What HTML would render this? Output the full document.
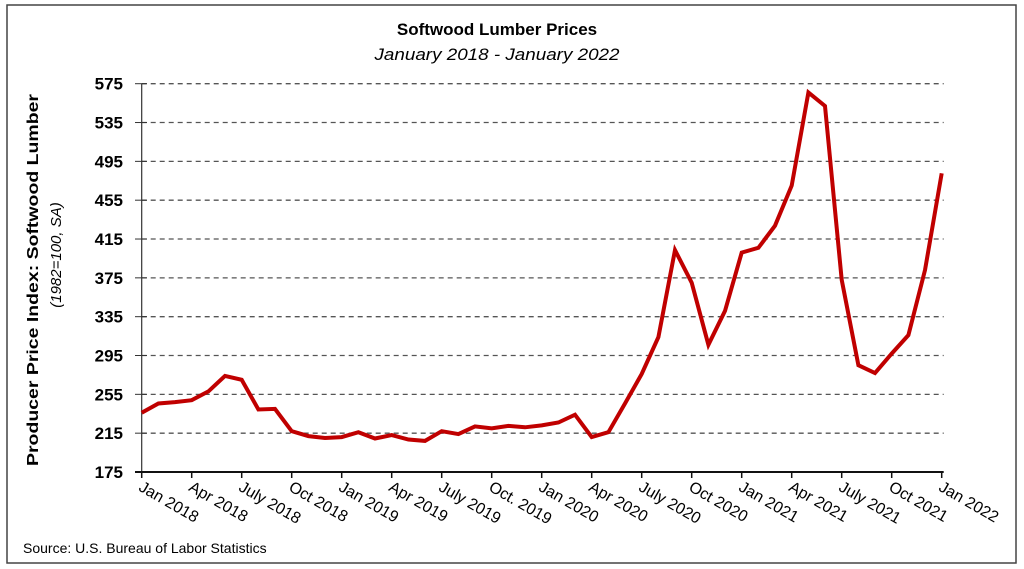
<!DOCTYPE html>
<html><head><meta charset="utf-8"><style>
body{margin:0;background:#fff;}
svg{display:block;font-family:"Liberation Sans",sans-serif;}
</style></head><body>
<svg id="chart" width="1024" height="569">
<rect x="7" y="5" width="1009" height="558" fill="#fff" stroke="#444" stroke-width="1.5"/>
<text x="497" y="35" text-anchor="middle" font-weight="bold" font-size="17">Softwood Lumber Prices</text>
<text x="497" y="60" text-anchor="middle" font-style="italic" font-size="17" textLength="245" lengthAdjust="spacingAndGlyphs">January 2018 - January 2022</text>
<text transform="translate(38,280) rotate(-90)" text-anchor="middle" font-weight="bold" font-size="16" textLength="372" lengthAdjust="spacingAndGlyphs">Producer Price Index: Softwood Lumber</text>
<text transform="translate(61,255) rotate(-90)" text-anchor="middle" font-style="italic" font-size="15">(1982=100, SA)</text>
<text x="23" y="553" font-size="14">Source: U.S. Bureau of Labor Statistics</text>
<g id="grid"></g><g id="axes"></g><g id="series"></g>
</svg>
<script>
const yTicks=[175,215,255,295,335,375,415,455,495,535,575];
const xTickLabels=["Jan 2018","Apr 2018","July 2018","Oct 2018","Jan 2019","Apr 2019","July 2019","Oct. 2019","Jan 2020","Apr 2020","July 2020","Oct 2020","Jan 2021","Apr 2021","July 2021","Oct 2021","Jan 2022"];
const prices=[236,245.6,247,249,258,274,270,239.4,240,217,212,210,211,216,209.5,213,208.5,207,217,214,222,220,222.5,221,223,226,234,211,216,245.6,276,314,403.6,370,306,341,401,406,428.7,470,566,552,373,285,277,297,316,383,482.7];
const ns="http://www.w3.org/2000/svg";
const X0=141.7,X1=941.7,Y0=472,Y1=83.7;
function xs(i){return X0+(X1-X0)*i/(prices.length-1);}
function ys(v){return Y0-(v-175)/(575-175)*(Y0-Y1);}
function mk(t,a,p){const e=document.createElementNS(ns,t);for(const k in a)e.setAttribute(k,a[k]);p.appendChild(e);return e;}
const grid=document.getElementById('grid'),axes=document.getElementById('axes'),series=document.getElementById('series');
yTicks.forEach(v=>{
  if(v>175){const g=mk('line',{x1:X0,x2:X1+2,y1:ys(v),y2:ys(v),stroke:'#555','stroke-width':1.3,'stroke-dasharray':'5,4'},grid);
  
  }
  const t=mk('line',{x1:135,x2:147,y1:ys(v),y2:ys(v),stroke:'#333','stroke-width':1},axes);
  
  
  const l=mk('text',{x:123,y:ys(v)+6,'text-anchor':'end','font-weight':'bold','font-size':17},axes);
  l.textContent=v;
  
  
});
const ya=mk('line',{x1:X0,x2:X0,y1:Y1,y2:Y0,stroke:'#333','stroke-width':1.2},axes);


const xa=mk('line',{x1:135,x2:X1+2,y1:Y0,y2:Y0,stroke:'#111','stroke-width':2},axes);


xTickLabels.forEach((s,k)=>{
  const x=xs(k*3);
  const t=mk('line',{x1:x,x2:x,y1:Y0,y2:Y0+6,stroke:'#111','stroke-width':1.5},axes);
  
  
  const l=mk('text',{transform:'translate('+(x-4)+','+(Y0+18)+') rotate(30)','font-size':16},axes);
  l.textContent=s;
  
  
});
const pts=prices.map((v,i)=>xs(i).toFixed(1)+','+ys(v).toFixed(1)).join(' ');
const line=mk('polyline',{points:pts,fill:'none',stroke:'#c00000','stroke-width':4,'stroke-linejoin':'miter'},series);


</script>
</body></html>
